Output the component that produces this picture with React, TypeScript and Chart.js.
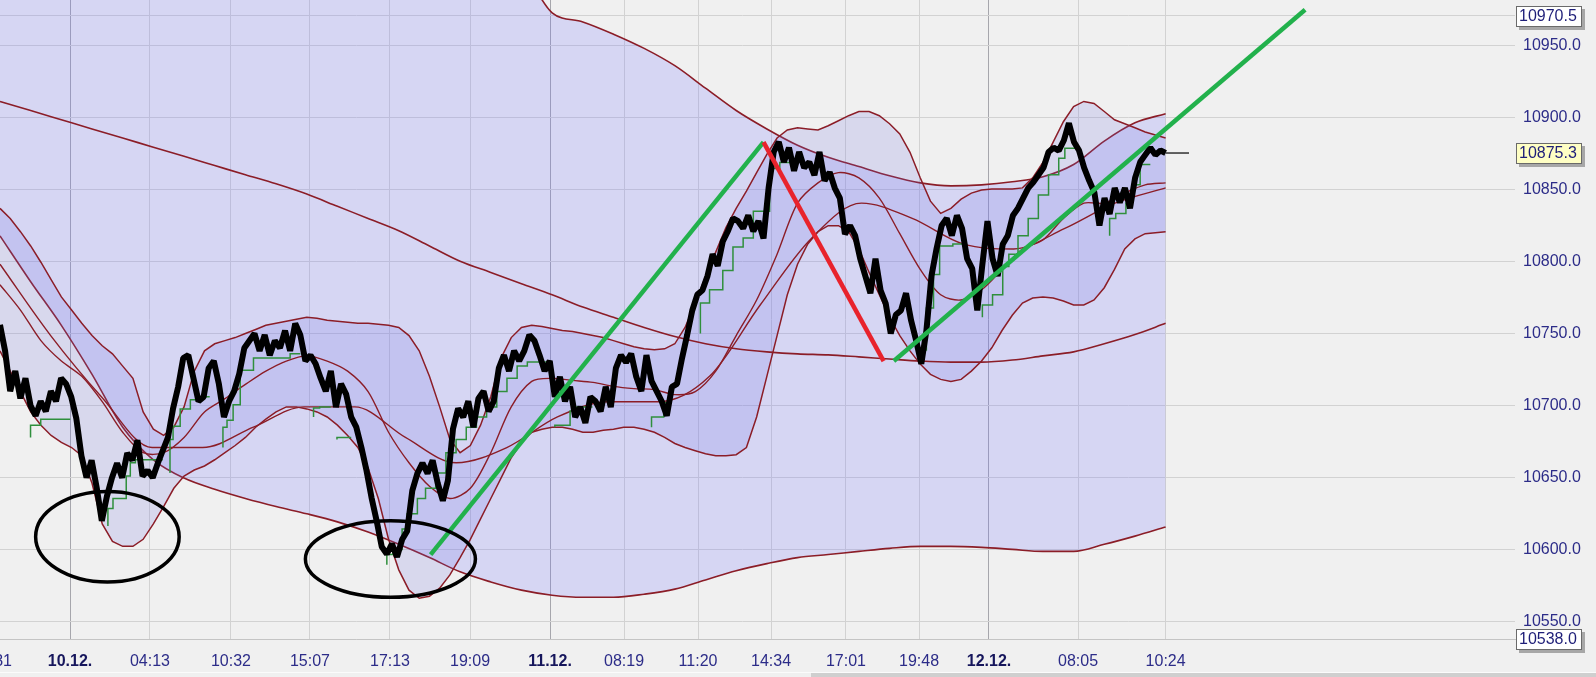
import React, { useEffect, useRef } from 'react';
import { Chart, registerables } from 'chart.js';

Chart.register(...registerables);

const FONT = "'Liberation Sans', Arial, Helvetica, sans-serif";

// ---- axis ----
const X_MIN = -29.47;
const X_MAX = 1488.2;
const DATA_END = 1145;
const X_TICK_POS = [-7.9, 68.8, 147.3, 226.9, 304.5, 383.1, 461.7, 540.3, 613.0, 685.7, 757.4, 831.0, 902.8, 971.5, 1059, 1145];
const X_TICK_LABELS = ['21:31', '10.12.', '04:13', '10:32', '15:07', '17:13', '19:09', '11.12.', '08:19', '11:20', '14:34', '17:01', '19:48', '12.12.', '08:05', '10:24'];
const Y_MIN = 10538.0;
const Y_MAX = 10981.5;
const Y_TICKS = [10550, 10600, 10650, 10700, 10750, 10800, 10850, 10900, 10950];
const Y_HIGH_MARK = 10970.5;
const LAST_PRICE = 10875.3;

// ---- price (evenly spaced from start to 10:24) ----
const PRICE = [
  10756, 10738, 10710, 10724, 10705, 10719, 10700, 10693, 10703, 10696,
  10710, 10703, 10719, 10715, 10706, 10691, 10665, 10650, 10662, 10643,
  10620, 10637, 10650, 10660, 10650, 10667, 10662, 10676, 10651, 10655,
  10650, 10660, 10669, 10678, 10698, 10713, 10733, 10735, 10719, 10703,
  10706, 10726, 10731, 10715, 10692, 10703, 10710, 10722, 10740, 10745,
  10750, 10738, 10749, 10735, 10745, 10740, 10752, 10738, 10757, 10749,
  10731, 10735, 10729, 10719, 10710, 10724, 10699, 10715, 10708, 10692,
  10685, 10671, 10655, 10636, 10620, 10602, 10597, 10604, 10595, 10607,
  10613, 10641, 10653, 10660, 10653, 10662, 10646, 10634, 10648, 10684,
  10698, 10692, 10703, 10685, 10705, 10710, 10696, 10703, 10726, 10735,
  10724, 10738, 10731, 10738, 10749, 10745, 10735, 10724, 10731, 10706,
  10720, 10703, 10713, 10692, 10699, 10688, 10706, 10703, 10696, 10713,
  10699, 10726, 10735, 10730, 10736, 10720, 10710, 10735, 10717, 10710,
  10703, 10693, 10713, 10715, 10733, 10749, 10766, 10777, 10780, 10790,
  10805, 10797, 10814, 10821, 10830, 10828, 10823, 10832, 10821, 10828,
  10816, 10851, 10876, 10883, 10869, 10879, 10863, 10876, 10865, 10869,
  10860, 10876, 10856, 10862, 10851, 10844, 10819, 10825, 10818, 10802,
  10790, 10778, 10802, 10780, 10771, 10750, 10763, 10766, 10778, 10759,
  10745, 10729, 10752, 10790, 10809, 10825, 10830, 10818, 10832, 10823,
  10802, 10795, 10766, 10798, 10828, 10802, 10790, 10812, 10818, 10832,
  10837, 10844, 10851, 10855, 10860, 10865, 10876, 10879, 10877, 10884,
  10896, 10883, 10877, 10865, 10856, 10848, 10825, 10844, 10833, 10851,
  10841, 10851, 10837, 10858, 10869, 10874, 10879, 10874, 10877, 10875.3,
];

// ---- long bollinger band ----
const LONG_UPPER = [
  11010.1, 11020.7, 11031.3, 11041.9, 11052.5, 11059.5, 11065.2, 11068.0, 11069.4, 11069.4,
  11066.6, 11059.5, 11051.1, 11041.9, 11031.3, 11022.0, 11012.0, 11003.0, 10972.6, 10966.3,
  10957.8, 10947.9, 10935.9, 10920.3, 10904.8, 10892.0, 10880.7, 10872.3, 10865.9, 10859.5,
  10854.6, 10852.5, 10853.2, 10855.3, 10858.8, 10867.3, 10883.6, 10896.3, 10902.6,
];
const LONG_MID = [
  10911.1, 10904.8, 10898.4, 10892.0, 10885.7, 10879.3, 10873.0, 10866.6, 10860.2, 10853.9,
  10846.8, 10838.3, 10829.9, 10821.4, 10810.8, 10800.2, 10792.4, 10784.6, 10776.9, 10768.4,
  10761.3, 10754.2, 10747.9, 10742.9, 10739.4, 10737.3, 10735.9, 10735.2, 10733.8, 10732.3,
  10730.9, 10730.2, 10730.2, 10731.6, 10734.5, 10737.3, 10742.9, 10749.3, 10757.1,
];
const LONG_LOWER = [
  10817.8, 10786.0, 10755.7, 10721.7, 10685.0, 10662.4, 10649.7, 10641.9, 10635.5, 10629.9,
  10624.9, 10619.3, 10612.2, 10603.7, 10594.5, 10584.6, 10577.6, 10571.9, 10568.4, 10567.0,
  10567.0, 10569.1, 10572.6, 10579.0, 10585.3, 10590.3, 10594.5, 10596.6, 10598.8, 10600.9,
  10602.3, 10602.3, 10601.6, 10600.2, 10598.8, 10598.8, 10603.7, 10609.4, 10615.7,
];

// ---- short bollinger band ----
const SHORT_UPPER = [
  10836.9, 10829.9, 10820.7, 10810.8, 10799.5, 10787.5, 10775.4, 10766.3, 10757.1, 10748.6,
  10741.5, 10735.9, 10727.4, 10718.9, 10695.6, 10683.6, 10679.3, 10685.0, 10699.1, 10723.9,
  10738.0, 10742.9, 10745.1, 10747.2, 10750.0, 10752.8, 10755.7, 10757.1, 10758.5, 10759.9,
  10761.3, 10760.6, 10759.2, 10758.5, 10757.8, 10757.1, 10757.1, 10756.4, 10755.7, 10754.2,
  10748.6, 10738.0, 10720.3, 10699.1, 10676.5, 10667.3, 10672.3, 10686.4, 10706.2, 10733.0,
  10747.2, 10754.2, 10755.7, 10754.9, 10753.5, 10752.1, 10751.4, 10750.0, 10748.6, 10747.2,
  10745.1, 10742.9, 10740.8, 10739.4, 10738.7, 10739.4, 10742.9, 10754.2, 10771.2, 10789.6,
  10806.5, 10823.5, 10836.9, 10848.9, 10861.7, 10874.4, 10885.7, 10891.3, 10892.8, 10892.0,
  10891.3, 10894.2, 10897.7, 10901.2, 10904.1, 10904.1, 10901.2, 10895.6, 10888.5, 10875.8,
  10858.1, 10841.9, 10833.4, 10836.9, 10843.3, 10847.5, 10849.6, 10850.4, 10850.4, 10850.4,
  10851.1, 10858.1, 10868.7, 10882.9, 10897.0, 10907.6, 10911.1, 10909.7, 10904.1, 10898.4,
  10895.6, 10892.8, 10889.9, 10887.8, 10885.7,
];
const SHORT_LOWER = [
  10738.0, 10723.9, 10709.7, 10695.6, 10686.4, 10679.3, 10674.4, 10670.9, 10665.2, 10646.1,
  10617.9, 10605.8, 10602.3, 10602.3, 10607.2, 10617.9, 10629.9, 10642.6, 10651.1, 10655.3,
  10658.1, 10662.4, 10667.3, 10672.3, 10677.9, 10685.0, 10690.6, 10695.6, 10699.1, 10699.1,
  10697.7, 10695.6, 10692.1, 10686.4, 10679.3, 10670.9, 10656.7, 10635.5, 10607.2, 10586.0,
  10571.9, 10566.3, 10567.7, 10573.3, 10582.5, 10594.5, 10607.2, 10621.4, 10635.5, 10649.7,
  10663.8, 10674.4, 10681.5, 10683.6, 10685.0, 10685.0, 10683.6, 10681.5, 10681.5, 10682.9,
  10683.6, 10685.0, 10685.0, 10683.6, 10681.5, 10677.9, 10673.7, 10670.9, 10668.7, 10666.6,
  10665.2, 10665.2, 10665.9, 10670.9, 10692.1, 10720.3, 10748.6, 10776.9, 10798.1, 10812.2,
  10820.7, 10824.9, 10824.9, 10820.7, 10808.7, 10792.4, 10776.9, 10761.3, 10748.6, 10738.0,
  10728.8, 10721.7, 10718.2, 10716.8, 10718.2, 10723.9, 10731.0, 10740.1, 10752.1, 10762.7,
  10771.2, 10774.7, 10775.4, 10774.7, 10772.6, 10769.8, 10769.8, 10773.3, 10781.8, 10794.5,
  10808.7, 10815.7, 10819.3, 10820.0, 10820.7,
];
const SHORT_MID = [
  10783.9, 10766.3, 10745.1, 10730.9, 10720.3, 10702.7, 10681.5, 10667.3, 10667.3, 10677.9,
  10695.6, 10704.8, 10714.7, 10723.9, 10730.9, 10734.5, 10730.9, 10723.9, 10709.7, 10681.5,
  10660.3, 10644.0, 10635.5, 10642.6, 10667.3, 10699.1, 10716.8, 10718.9, 10717.5, 10716.1,
  10713.3, 10711.8, 10711.1, 10707.6, 10709.7, 10723.9, 10748.6, 10773.3, 10805.1, 10840.5,
  10854.6, 10861.7, 10858.1, 10844.0, 10819.3, 10794.5, 10776.9, 10773.3, 10780.4, 10794.5,
  10808.7, 10815.0, 10829.9, 10840.5, 10840.5, 10847.5, 10853.2, 10854.6,
];
const MEDIUM_MA = [
  10798.1, 10748.6, 10706.2, 10670.9, 10670.9, 10685.0, 10699.1, 10699.1, 10677.9, 10660.3,
  10670.9, 10692.1, 10702.7, 10702.7, 10720.3, 10769.8, 10815.7, 10840.5, 10829.9, 10812.2,
  10808.7, 10822.8, 10840.5, 10851.1,
];

// ---- green trailing stop (null = gap) ----
const GREEN_X = [
  30, 40, 56, 69, null,
  106, 111, 124, 128, 133, 160, null,
  167, 170, 177, 187, 197, 206, null,
  219, 223, 229, 236, 249, 259, 285, 295, null,
  308, 314, 325, null,
  331, 345, null,
  380, 386, 395, 400, 410, 418, 428, 438, 448, 458, 468, 478, 488, 498, 508, 518, 538, null,
  545, 560, 566, 582, null,
  640, 652, 660, null,
  688, 697, 710, 720, 730, 740, 756, 766, 776, null,
  910, 917, 923, 936, 950, null,
  965, 975, 985, 991, 1000, 1010, 1020, 1030, 1040, 1046, 1056, null,
  1090, 1096, 1106, 1112, 1120, 1130,
];
const GREEN_Y = [
  10677.9, 10686.4, 10690.6, 10690.6, null,
  10616.4, 10628.5, 10635.5, 10651.1, 10660.3, 10662.4, null,
  10653.2, 10676.5, 10685.7, 10697.7, 10704.1, 10706.2, null,
  10670.9, 10685.0, 10689.9, 10700.5, 10724.6, 10733.0, 10733.0, 10735.9, null,
  10692.1, 10698.4, 10699.1, null,
  10676.5, 10677.9, null,
  10589.6, 10596.6, 10600.2, 10614.3, 10624.9, 10635.5, 10642.6, 10653.2, 10667.3, 10676.5, 10685.0, 10692.1, 10699.1, 10709.7, 10718.9, 10727.4, 10730.2, null,
  10685.0, 10686.4, 10696.3, 10699.1, null,
  10685.0, 10692.1, 10702.0, null,
  10750.0, 10771.2, 10780.4, 10793.8, 10810.1, 10816.4, 10834.8, 10864.5, 10868.7, null,
  10738.0, 10767.7, 10791.0, 10810.8, 10812.2, null,
  10761.3, 10769.8, 10776.9, 10796.6, 10805.1, 10817.8, 10829.9, 10846.1, 10860.2, 10871.6, 10878.6, null,
  10817.8, 10829.9, 10833.4, 10840.5, 10853.2, 10867.3,
];

// ---- drawn trend lines ----
const TREND_UP1_X = [423, 750];
const TREND_UP1_Y = [10596.6, 10882.9];
const TREND_DOWN_X = [750, 868];
const TREND_DOWN_Y = [10882.9, 10730.9];
const TREND_UP2_X = [878, 1282];
const TREND_UP2_Y = [10730.9, 10974.7];
const MARKER_X = [1145, 1168];

// ---- ellipses marking the lows: centre x, centre y, x radius, y radius ----
const ELLIPSE_CX = [105.5, 383.5];
const ELLIPSE_CY = [10609.0, 10593.5];
const ELLIPSE_RX = [70.5, 83.5];
const ELLIPSE_RY = [31.4, 26.5];

function toSeries(values: number[], end: number) {
  const step = end / (values.length - 1);
  return values.map((v, i) => ({ x: i * step, y: v }));
}
function toPoints(xs: (number | null)[], ys: (number | null)[]) {
  return xs.map((x, i) => ({ x: (x ?? xs[i - 1]) as number, y: ys[i] as any }));
}

const isDate = (i: number) => (X_TICK_LABELS[i] || '').includes('.');

const zeroPad = (s: any) => {
  s.paddingLeft = 0;
  s.paddingRight = 0;
  s.paddingTop = 0;
  s.paddingBottom = 0;
};

const ellipsePlugin = {
  id: 'ellipses',
  afterDatasetsDraw(chart: any) {
    const { ctx } = chart;
    const xs = chart.scales.x;
    const ys = chart.scales.y;
    ctx.save();
    ctx.strokeStyle = '#000';
    ctx.lineWidth = 3.5;
    for (let i = 0; i < ELLIPSE_CX.length; i++) {
      const cx = xs.getPixelForValue(ELLIPSE_CX[i]);
      const cy = ys.getPixelForValue(ELLIPSE_CY[i]);
      const rx = xs.getPixelForValue(ELLIPSE_CX[i] + ELLIPSE_RX[i]) - cx;
      const ry = ys.getPixelForValue(ELLIPSE_CY[i] - ELLIPSE_RY[i]) - cy;
      ctx.beginPath();
      ctx.ellipse(cx, cy, rx, ry, 0, 0, Math.PI * 2);
      ctx.stroke();
    }
    ctx.restore();
  },
};

const boxPlugin = {
  id: 'valueBoxes',
  afterDraw(chart: any) {
    const { ctx, chartArea } = chart;
    const ys = chart.scales.y;
    const boxes: [number, string][] = [
      [Y_HIGH_MARK, '#ffffff'],
      [LAST_PRICE, '#ffffc4'],
      [Y_MIN, '#ffffff'],
    ];
    ctx.save();
    ctx.font = `16px ${FONT}`;
    for (const [v, fill] of boxes) {
      const py = Math.round(ys.getPixelForValue(v));
      const x0 = Math.round(chartArea.right + 1);
      const w = 66;
      const h = 21;
      const y0 = py - 10;
      ctx.fillStyle = 'rgba(0,0,0,0.3)';
      ctx.fillRect(x0 + 3, y0 + 3, w, h);
      ctx.fillStyle = fill;
      ctx.fillRect(x0, y0, w, h);
      ctx.strokeStyle = '#6a6a6a';
      ctx.lineWidth = 1;
      ctx.strokeRect(x0 + 0.5, y0 + 0.5, w - 1, h - 1);
      ctx.fillStyle = '#1e1e78';
      ctx.textBaseline = 'middle';
      ctx.textAlign = 'left';
      ctx.fillText(v.toFixed(1), x0 + 3, py + 1);
    }
    ctx.restore();
  },
};

export default function App() {
  const canvasRef = useRef<HTMLCanvasElement | null>(null);

  useEffect(() => {
    const canvas = canvasRef.current;
    if (!canvas) return;
    const red = '#8b1d27';
    const base: any[] = [
      {
        label: 'long upper', data: toSeries(LONG_UPPER, DATA_END), borderColor: red, borderWidth: 1.6,
        cubicInterpolationMode: 'monotone', fill: 1, backgroundColor: 'rgba(120,120,255,0.21)',
      },
      { label: 'long lower', data: toSeries(LONG_LOWER, DATA_END), borderColor: red, borderWidth: 1.6, cubicInterpolationMode: 'monotone', fill: false },
      {
        label: 'short upper', data: toSeries(SHORT_UPPER, DATA_END), borderColor: red, borderWidth: 1.5,
        fill: 3, backgroundColor: 'rgba(110,110,230,0.18)',
      },
      { label: 'short lower', data: toSeries(SHORT_LOWER, DATA_END), borderColor: red, borderWidth: 1.5, fill: false },
      { label: 'long mid', data: toSeries(LONG_MID, DATA_END), borderColor: red, borderWidth: 1.6, cubicInterpolationMode: 'monotone', fill: false },
      { label: 'short mid', data: toSeries(SHORT_MID, DATA_END), borderColor: red, borderWidth: 1.4, tension: 0.3, fill: false },
      { label: 'medium ma', data: toSeries(MEDIUM_MA, DATA_END), borderColor: red, borderWidth: 1.4, cubicInterpolationMode: 'monotone', fill: false },
      { label: 'stop', data: toPoints(GREEN_X, GREEN_Y), borderColor: '#2f8f3c', borderWidth: 1.5, stepped: 'after', spanGaps: false, fill: false },
      { label: 'price', data: toSeries(PRICE, DATA_END), borderColor: '#000', borderWidth: 6, borderJoinStyle: 'bevel', fill: false },
      { label: 'marker', data: MARKER_X.map((x) => ({ x, y: LAST_PRICE })), borderColor: '#000', borderWidth: 1.2, fill: false },
      { label: 'up1', data: toPoints(TREND_UP1_X, TREND_UP1_Y), borderColor: '#22b14c', borderWidth: 4.5, fill: false },
      { label: 'down', data: toPoints(TREND_DOWN_X, TREND_DOWN_Y), borderColor: '#e8232c', borderWidth: 4.5, fill: false },
      { label: 'up2', data: toPoints(TREND_UP2_X, TREND_UP2_Y), borderColor: '#22b14c', borderWidth: 4.5, fill: false },
    ];
    const datasets = base.map((d, i, arr) => ({ pointRadius: 0, pointHoverRadius: 0, order: arr.length - i, ...d }));

    const chart = new Chart(canvas, {
      type: 'line',
      data: { datasets },
      options: {
        animation: false,
        responsive: false,
        devicePixelRatio: 1,
        events: [],
        layout: { padding: 0 },
        plugins: { legend: { display: false }, tooltip: { enabled: false } },
        scales: {
          x: {
            type: 'linear',
            min: X_MIN,
            max: X_MAX,
            afterBuildTicks: (s: any) => {
              s.ticks = X_TICK_POS.map((v) => ({ value: v }));
            },
            afterFit: (s: any) => {
              s.height = 38;
              zeroPad(s);
            },
            ticks: {
              autoSkip: false,
              maxRotation: 0,
              minRotation: 0,
              padding: 13,
              callback: (_v: any, i: number) => X_TICK_LABELS[i],
              font: (c: any) => ({ family: FONT, size: 16, weight: isDate(c.index) ? 'bold' : 'normal' }),
              color: (c: any) => (isDate(c.index) ? '#16165c' : '#2c2c88'),
            },
            grid: {
              drawTicks: false,
              lineWidth: 1,
              color: (c: any) => (isDate(c.index) ? '#a6a6ac' : '#d2d2d2'),
            },
            border: { display: true, color: '#c4c4c4' },
          },
          y: {
            type: 'linear',
            position: 'right',
            min: Y_MIN,
            max: Y_MAX,
            afterBuildTicks: (s: any) => {
              s.ticks = [Y_MIN, ...Y_TICKS, Y_HIGH_MARK].map((v) => ({ value: v }));
            },
            afterFit: (s: any) => {
              s.width = 81;
              zeroPad(s);
            },
            ticks: {
              padding: 8,
              autoSkip: false,
              callback: (v: any) => (v === Y_MIN || v === Y_HIGH_MARK ? '' : Number(v).toFixed(1)),
              font: { family: FONT, size: 16 },
              color: '#2c2c88',
            },
            grid: { drawTicks: false, color: '#d2d2d2', lineWidth: 1 },
            border: { display: false },
          },
        },
      } as any,
      plugins: [ellipsePlugin, boxPlugin],
    });
    return () => chart.destroy();
  }, []);

  return (
    <div style={{ position: 'fixed', left: 0, top: 0, width: 1596, height: 677, overflow: 'hidden', background: '#f0f0f0' }}>
      <canvas ref={canvasRef} width={1626} height={677} style={{ position: 'absolute', left: -30, top: 0, width: 1626, height: 677 }} />
      <div style={{ position: 'absolute', left: 0, top: 672, width: 1596, height: 1, background: '#fbfbfb' }} />
      <div style={{ position: 'absolute', left: 811, top: 673, width: 785, height: 4, background: '#cfcfcf' }} />
    </div>
  );
}
